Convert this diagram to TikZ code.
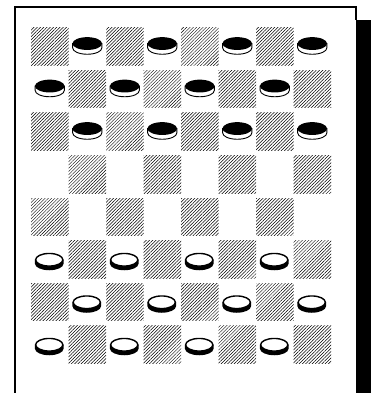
\documentclass[tikz,border=0pt]{standalone}
\usetikzlibrary{patterns.meta}
\tikzset{
  hatchsq/.style={pattern={Lines[angle=45,distance=2.3pt,line width=0.5pt]},pattern color=black},
  framestyle/.style={line width=1.3pt,draw=black},
  bpiece/.pic={
    \filldraw[fill=white,draw=black,line width=0.9pt] (-14.6,-3.2) -- (-14.6,1.2) arc[start angle=180,end angle=0,x radius=14.6,y radius=6.3] -- (14.6,-3.2) -- cycle;
    \fill[black] (0,-3.2) ellipse[x radius=14.8,y radius=6.4];
  },
  wpiece/.pic={
    \fill[black] (-14.3,0.5) -- (-14.3,4.4) arc[start angle=180,end angle=0,x radius=14.3,y radius=6.6] -- (14.3,0.5) -- cycle;
    \filldraw[fill=white,draw=black,line width=1.4pt] (0,0.5) ellipse[x radius=13.6,y radius=6.3];
  }
}
\begin{document}
\begin{tikzpicture}[x=1pt,y=-1pt]
\useasboundingbox (0,0) rectangle (371,393);
% frame
\draw[framestyle] (15,393) -- (15,7) -- (356,7) -- (356,20);
\fill[black] (356,20) rectangle (371,393);
% hatched squares
\foreach \r in {0,2,4,6} \foreach \c in {0,2,4,6}
  \fill[hatchsq] ({31+37.5*\c},{28+42.5*\r}) rectangle ++(37.5,37.5);
\foreach \r in {1,3,5,7} \foreach \c in {1,3,5,7}
  \fill[hatchsq] ({31+37.5*\c},{28+42.5*\r}) rectangle ++(37.5,37.5);
% black pieces
\foreach \r in {0,2} \foreach \c in {1,3,5,7}
  \pic at ({49.75+37.5*\c},{46.75+42.5*\r}) {bpiece};
\foreach \c in {0,2,4,6}
  \pic at ({49.75+37.5*\c},{46.75+42.5}) {bpiece};
% white pieces
\foreach \r in {5,7} \foreach \c in {0,2,4,6}
  \pic at ({49.25+37.5*\c},{46.75+42.5*\r}) {wpiece};
\foreach \c in {1,3,5,7}
  \pic at ({49.25+37.5*\c},{46.75+42.5*6}) {wpiece};
\end{tikzpicture}
\end{document}
